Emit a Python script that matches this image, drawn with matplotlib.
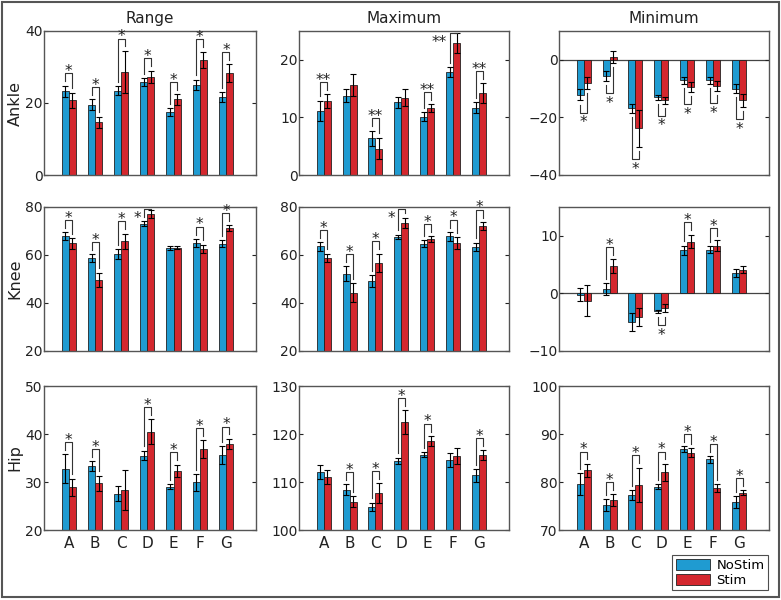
import numpy as np
import matplotlib.pyplot as plt
from matplotlib.patches import Patch, Rectangle

groups = ['A', 'B', 'C', 'D', 'E', 'F', 'G']
col_titles = ['Range', 'Maximum', 'Minimum']
row_titles = ['Ankle', 'Knee', 'Hip']

# ankle
ankle_range_nostim = [23.3, 19.5, 23.4, 25.8, 17.5, 25.1, 21.6]
ankle_range_nostim_err = [1.5, 1.5, 1.2, 1.1, 1.0, 1.4, 1.4]
ankle_range_stim = [20.7, 14.6, 28.6, 27.3, 21.0, 32.0, 28.3]
ankle_range_stim_err = [2.2, 1.6, 5.9, 1.7, 1.5, 2.3, 2.5]
ankle_range_sig = ['*', '*', '*', '*', '*', '*', '*']

ankle_max_nostim = [11.1, 13.8, 6.4, 12.6, 10.1, 17.9, 11.7]
ankle_max_nostim_err = [1.8, 1.1, 1.3, 1.0, 0.8, 0.8, 0.9]
ankle_max_stim = [12.8, 15.7, 4.6, 13.4, 11.6, 22.9, 14.2]
ankle_max_stim_err = [1.2, 1.9, 1.9, 1.5, 0.7, 1.7, 1.7]
ankle_max_sig = ['**', '', '**', '', '**', '**', '**']

ankle_min_nostim = [-12.2, -5.6, -16.9, -13.0, -7.1, -7.1, -10.0]
ankle_min_nostim_err = [1.9, 1.8, 1.5, 0.8, 1.2, 1.2, 1.5]
ankle_min_stim = [-7.9, 0.9, -23.8, -14.1, -9.4, -9.0, -14.1]
ankle_min_stim_err = [2.1, 2.0, 6.4, 1.1, 1.7, 1.8, 2.3]
ankle_min_sig = ['*', '*', '*', '*', '*', '*', '*']

# knee
knee_range_nostim = [67.8, 58.7, 60.4, 73.0, 62.9, 65.0, 64.7]
knee_range_nostim_err = [1.7, 1.7, 1.9, 1.1, 0.8, 1.7, 1.5]
knee_range_stim = [64.9, 49.6, 65.7, 77.2, 63.1, 62.6, 71.2]
knee_range_stim_err = [2.2, 3.1, 3.2, 1.7, 0.8, 1.7, 1.2]
knee_range_sig = ['*', '*', '*', '*', '', '*', '*']

knee_max_nostim = [63.6, 52.2, 49.0, 67.5, 64.7, 67.8, 63.3]
knee_max_nostim_err = [1.8, 3.1, 2.5, 1.0, 1.4, 1.8, 1.8]
knee_max_stim = [58.8, 44.3, 56.8, 73.5, 66.7, 65.1, 72.1]
knee_max_stim_err = [1.8, 4.0, 3.8, 2.1, 1.1, 2.4, 1.7]
knee_max_sig = ['*', '*', '*', '*', '*', '*', '*']

knee_min_nostim = [-0.2, 0.8, -5.0, -3.1, 7.5, 7.6, 3.6]
knee_min_nostim_err = [1.2, 1.0, 1.6, 0.3, 0.8, 0.6, 0.7]
knee_min_stim = [-1.3, 4.7, -4.1, -2.6, 9.0, 8.3, 4.1]
knee_min_stim_err = [2.7, 1.2, 1.5, 0.7, 1.2, 0.9, 0.6]
knee_min_sig = ['', '*', '', '*', '*', '*', '']

# hip
hip_range_nostim = [32.8, 33.3, 27.6, 35.5, 29.0, 29.9, 35.6]
hip_range_nostim_err = [3.0, 1.0, 1.6, 1.0, 0.5, 1.7, 1.9]
hip_range_stim = [28.9, 29.7, 28.4, 40.5, 32.3, 36.9, 37.9]
hip_range_stim_err = [1.8, 1.6, 4.2, 2.6, 1.3, 1.8, 1.1]
hip_range_sig = ['*', '*', '', '*', '*', '*', '*']

hip_max_nostim = [112.1, 108.4, 104.8, 114.4, 115.7, 114.6, 111.4]
hip_max_nostim_err = [1.4, 1.1, 0.9, 0.7, 0.5, 1.4, 1.3]
hip_max_stim = [111.1, 105.9, 107.7, 122.5, 118.6, 115.4, 115.6]
hip_max_stim_err = [1.5, 1.2, 2.0, 2.5, 1.0, 1.6, 1.0]
hip_max_sig = ['', '*', '*', '*', '*', '', '*']

hip_min_nostim = [79.5, 75.2, 77.3, 79.0, 86.8, 84.7, 75.8]
hip_min_nostim_err = [2.3, 1.2, 1.0, 0.5, 0.6, 0.7, 1.3]
hip_min_stim = [82.4, 76.2, 79.4, 82.0, 86.1, 78.7, 77.8]
hip_min_stim_err = [1.4, 1.2, 3.6, 1.8, 0.9, 0.8, 0.5]
hip_min_sig = ['*', '*', '*', '*', '*', '*', '*']

panels = [
    [(ankle_range_nostim, ankle_range_nostim_err, ankle_range_stim, ankle_range_stim_err, ankle_range_sig),
     (ankle_max_nostim, ankle_max_nostim_err, ankle_max_stim, ankle_max_stim_err, ankle_max_sig),
     (ankle_min_nostim, ankle_min_nostim_err, ankle_min_stim, ankle_min_stim_err, ankle_min_sig)],
    [(knee_range_nostim, knee_range_nostim_err, knee_range_stim, knee_range_stim_err, knee_range_sig),
     (knee_max_nostim, knee_max_nostim_err, knee_max_stim, knee_max_stim_err, knee_max_sig),
     (knee_min_nostim, knee_min_nostim_err, knee_min_stim, knee_min_stim_err, knee_min_sig)],
    [(hip_range_nostim, hip_range_nostim_err, hip_range_stim, hip_range_stim_err, hip_range_sig),
     (hip_max_nostim, hip_max_nostim_err, hip_max_stim, hip_max_stim_err, hip_max_sig),
     (hip_min_nostim, hip_min_nostim_err, hip_min_stim, hip_min_stim_err, hip_min_sig)],
]

# axis limits / ticks per panel
ylims = [[(0, 40), (0, 25), (-40, 10)],
         [(20, 80), (20, 80), (-10, 15)],
         [(20, 50), (100, 130), (70, 100)]]
yticks = [[[0, 20, 40], [0, 10, 20], [-40, -20, 0]],
          [[20, 40, 60, 80], [20, 40, 60, 80], [-10, 0, 10]],
          [[20, 30, 40, 50], [100, 110, 120, 130], [70, 80, 90, 100]]]

BLUE = '#1f9bd1'
RED = '#d4272e'
EDGE = '#222222'
LINE = '#333333'

W, H = 781, 600
col_x = [(44, 256), (299, 509), (559, 769)]
row_y = [(31, 175), (207, 351), (386, 530)]


def bracket(ax, xb, xr, vb, eb, vr, er, label, ylo, yhi):
    rng = yhi - ylo
    if vb + vr < 0:
        ends = [vb - eb, vr - er]
        base = min(ends) - 0.085 * rng
        legs = [e - 0.03 * rng for e in ends]
        ax.plot([xb, xb, xr, xr], [legs[0], base, base, legs[1]],
                color=LINE, lw=0.8, zorder=4)
        ax.annotate(label, xy=((xb + xr) / 2, base), xytext=(0, -10.5),
                    textcoords='offset points', ha='center', va='baseline',
                    fontsize=11, color='#222222')
    else:
        ends = [vb + eb, vr + er]
        top = max(ends) + 0.085 * rng
        clipped = top > yhi - 0.015 * rng
        if clipped:
            top = yhi - 0.015 * rng
        legs = [min(e + 0.03 * rng, top) for e in ends]
        ax.plot([xb, xb, xr, xr], [legs[0], top, top, legs[1]],
                color=LINE, lw=0.8, zorder=4, clip_on=False)
        if clipped:
            ax.annotate(label, xy=(xb, top), xytext=(-2, -10),
                        textcoords='offset points', ha='right', va='baseline',
                        fontsize=11, color='#222222')
        else:
            ax.annotate(label, xy=((xb + xr) / 2, top), xytext=(0, -2),
                        textcoords='offset points', ha='center', va='baseline',
                        fontsize=11, color='#222222')


fig = plt.figure(figsize=(W / 100, H / 100), dpi=100)
x = np.arange(1, len(groups) + 1)
bw = 0.27

for r in range(3):
    for c in range(3):
        x0, x1 = col_x[c]
        y0, y1 = row_y[r]
        ax = fig.add_axes([x0 / W, 1 - y1 / H, (x1 - x0) / W, (y1 - y0) / H])
        nb, nbe, st, ste, sig = panels[r][c]
        ylo, yhi = ylims[r][c]
        xb = x - bw / 2
        xr = x + bw / 2
        ax.bar(xb, nb, width=bw, color=BLUE, edgecolor=EDGE, linewidth=0.6, zorder=2)
        ax.bar(xr, st, width=bw, color=RED, edgecolor=EDGE, linewidth=0.6, zorder=2)
        ax.errorbar(xb, nb, yerr=nbe, fmt='none', ecolor='black', elinewidth=0.8,
                    capsize=2.5, capthick=0.8, zorder=3)
        ax.errorbar(xr, st, yerr=ste, fmt='none', ecolor='black', elinewidth=0.8,
                    capsize=2.5, capthick=0.8, zorder=3)
        if ylo < 0 < yhi:
            ax.axhline(0, color='#444444', lw=0.9, zorder=1)
        for i, s in enumerate(sig):
            if s:
                bracket(ax, xb[i], xr[i], nb[i], nbe[i], st[i], ste[i], s, ylo, yhi)

        ax.set_xlim(0.05, 8.15)
        ax.set_ylim(ylo, yhi)
        ax.set_yticks(yticks[r][c])
        ax.set_xticks(x)
        if r == 2:
            ax.set_xticklabels(groups, fontsize=11)
        else:
            ax.set_xticklabels([])
        ax.tick_params(axis='y', direction='in', right=True, length=3,
                       labelsize=10, colors='#222222', pad=1)
        ax.tick_params(axis='x', direction='in', top=False, length=0,
                       labelsize=11, colors='#222222', pad=4)
        for sp in ax.spines.values():
            sp.set_color('#555555')
            sp.set_linewidth(1.0)
        if r == 0:
            ax.set_title(col_titles[c], fontsize=11, pad=6, color='#222222')

for r in range(3):
    y0, y1 = row_y[r]
    fig.text(15 / W, 1 - (y0 + y1) / 2 / H, row_titles[r], rotation=90,
             ha='center', va='center', fontsize=11.5, color='#222222')

handles = [Patch(facecolor=BLUE, edgecolor=EDGE, linewidth=0.6, label='NoStim'),
           Patch(facecolor=RED, edgecolor=EDGE, linewidth=0.6, label='Stim')]
leg = fig.legend(handles=handles, loc='lower right',
                 bbox_to_anchor=(768 / W, 1 - 590 / H), fontsize=9.5,
                 frameon=True, fancybox=False, handlelength=2.6, handleheight=0.9,
                 handletextpad=0.5, labelspacing=0.15, borderpad=0.25,
                 borderaxespad=0.0)
leg.get_frame().set_edgecolor('#222222')
leg.get_frame().set_linewidth(0.8)

fig.add_artist(Rectangle((2 / W, 3 / H), 777 / W, 595 / H, transform=fig.transFigure,
                         fill=False, edgecolor='#555555', linewidth=1.5))

fig.savefig('out.png', dpi=100, facecolor='white')
